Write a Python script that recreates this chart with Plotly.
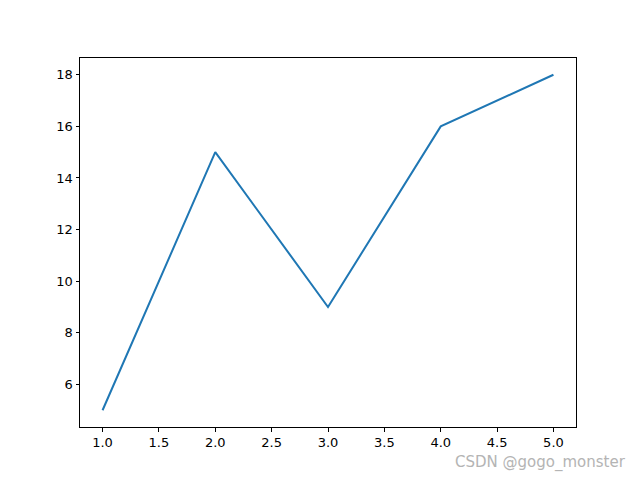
import plotly.graph_objects as go

x_vals = [1, 2, 3, 4, 5]
y_vals = [5, 15, 9, 16, 18]
x_ticks = [1.0, 1.5, 2.0, 2.5, 3.0, 3.5, 4.0, 4.5, 5.0]
x_tick_labels = ["1.0", "1.5", "2.0", "2.5", "3.0", "3.5", "4.0", "4.5", "5.0"]
y_ticks = [6, 8, 10, 12, 14, 16, 18]
watermark = "CSDN @gogo_monster"

fig = go.Figure(go.Scatter(x=x_vals, y=y_vals, mode="lines",
                           line=dict(color="#1f77b4", width=2)))

axis_common = dict(showgrid=False, zeroline=False, showline=True, mirror=True,
                   linecolor="black", linewidth=1, ticks="outside",
                   ticklen=3.5, tickwidth=1, tickcolor="black",
                   tickfont=dict(family="DejaVu Sans", size=13, color="black"))

fig.update_xaxes(range=[0.8, 5.2], tickvals=x_ticks, ticktext=x_tick_labels, **axis_common)
fig.update_yaxes(range=[4.35, 18.65], tickvals=y_ticks, **axis_common)

fig.add_annotation(text=watermark, xref="paper", yref="paper",
                   x=(540 - 80) / 496, y=(427 - 462) / 369,
                   showarrow=False, xanchor="center", yanchor="middle",
                   font=dict(family="DejaVu Sans", size=15, color="#b4b4b4"))

fig.update_layout(width=640, height=480, margin=dict(l=72, r=72, t=50, b=61),
                  plot_bgcolor="white", paper_bgcolor="white", showlegend=False)

fig.write_html("out.html")
